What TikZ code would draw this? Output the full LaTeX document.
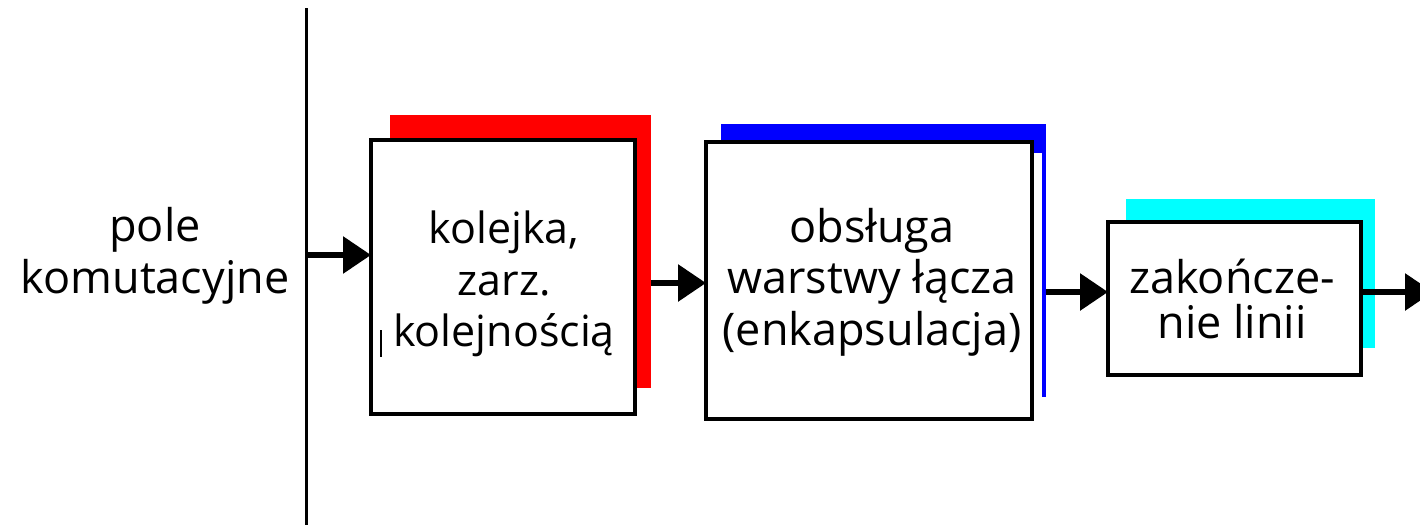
\documentclass[tikz,border=0pt]{standalone}
\usepackage{fontspec}
\setmainfont{Open Sans}
\usetikzlibrary{arrows.meta,fit}
\begin{document}
\begin{tikzpicture}[x=0.5pt,y=-0.5pt,
  lbl/.style={align=center,inner sep=0pt,font=\fontsize{22.5pt}{25.75pt}\selectfont},
  frontbox/.style={draw=black,line width=2.2pt,fill=white,inner sep=0pt,outer sep=0pt},
  shadowbox/.style={inner sep=0pt,outer sep=0pt},
  arr/.style={line width=3pt,-{Triangle[length=14pt,width=18pt]}}]
\useasboundingbox (0,0) rectangle (1420,525);
\clip (0,0) rectangle (1420,525);
% switching fabric boundary
\coordinate (vtop) at (306,8);
\coordinate (vbot) at (306,530);
\draw[line width=1.5pt] (vtop) -- (vbot);
\node[lbl] (pole) at (155,256) {pole\\komutacyjne};
% box 1
\coordinate (s1a) at (390,115); \coordinate (s1b) at (651,388);
\node[shadowbox,fill={rgb,255:red,255;green,0;blue,0},fit=(s1a)(s1b)] (s1) {};
\coordinate (b1a) at (371,140); \coordinate (b1b) at (635,414);
\node[frontbox,fit=(b1a)(b1b)] (b1) {};
\node[lbl,font=\fontsize{21.5pt}{25.75pt}\selectfont] (t1) at (504,284) {kolejka,\\zarz.\\kolejnością};
\coordinate (m1a) at (381,330); \coordinate (m1b) at (381,357);
\draw[line width=0.8pt] (m1a) -- (m1b);
% box 2
\coordinate (s2a) at (721,124); \coordinate (s2b) at (1046,397);
\node[shadowbox,fill={rgb,255:red,0;green,0;blue,255},fit=(s2a)(s2b)] (s2) {};
\coordinate (w2a) at (1033,153); \coordinate (w2b) at (1042,397);
\fill[white] (w2a) rectangle (w2b);
\coordinate (b2a) at (706,142); \coordinate (b2b) at (1032,419);
\node[frontbox,fit=(b2a)(b2b)] (b2) {};
\node[lbl] (t2) at (872,282) {obsługa\\warstwy łącza\\(enkapsulacja)};
% box 3
\coordinate (s3a) at (1126,199); \coordinate (s3b) at (1375,348);
\node[shadowbox,fill={rgb,255:red,0;green,255;blue,255},fit=(s3a)(s3b)] (s3) {};
\coordinate (b3a) at (1108,222); \coordinate (b3b) at (1361,375);
\node[frontbox,fit=(b3a)(b3b)] (b3) {};
\node[lbl,font=\fontsize{22.5pt}{22.5pt}\selectfont] (t3) at (1232,299) {zakończe-\\nie linii};
% arrows
\coordinate (a1) at (306,255);
\draw[arr] (a1) -- (a1 -| b1.west);
\coordinate (a2) at (651,283);
\draw[arr] (a2) -- (a2 -| b2.west);
\coordinate (a3) at (1046,292);
\draw[arr] (a3) -- (a3 -| b3.west);
\coordinate (a4) at (1361,292);
\coordinate (a4e) at (1433,292);
\draw[arr] (a4) -- (a4e);
\end{tikzpicture}
\end{document}
